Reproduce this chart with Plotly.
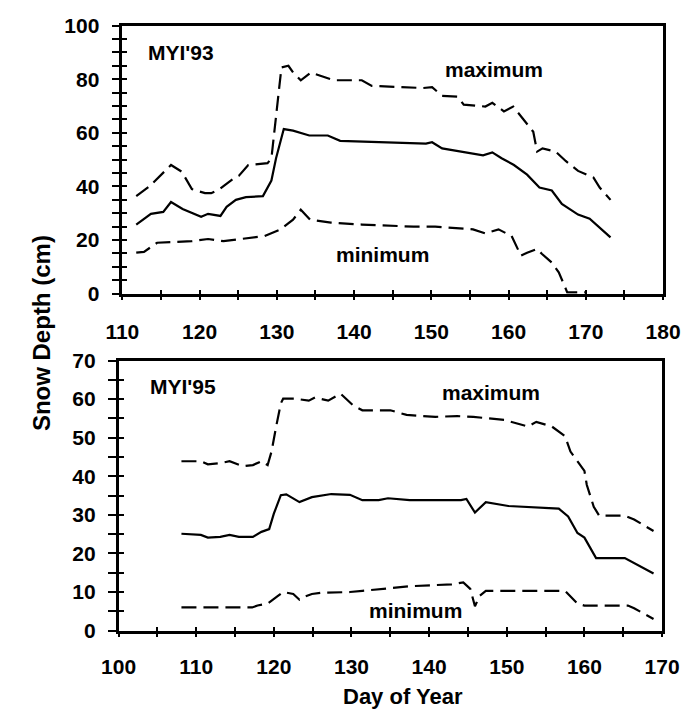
import plotly.graph_objects as go

# ---- MYI'93 snow depth (cm) by day of year ----
day93_max = [111.8, 113.5, 116.3, 117.7, 119.0, 120.7, 121.5, 122.6, 124.4, 125.1, 126.3, 128.8,
             129.3, 130.0, 130.6, 131.5, 132.1, 133.1, 134.4, 137.4, 141.0, 142.3, 147.2, 148.9,
             150.1, 151.4, 153.4, 154.2, 157.0, 157.9, 159.4, 160.6, 162.4, 163.2, 163.7, 164.4,
             166.1, 167.4, 169.0, 171.0, 171.8, 173.2]
depth93_max = [36.4, 40.0, 48.0, 45.5, 39.0, 37.5, 37.5, 39.0, 43.0, 44.0, 48.0, 48.7,
               50.5, 68.7, 84.4, 85.0, 82.5, 79.6, 82.5, 79.6, 79.6, 77.5, 76.7, 76.7,
               77.0, 73.8, 73.5, 70.5, 69.8, 71.2, 68.0, 69.8, 63.3, 60.4, 53.0, 54.2,
               53.0, 49.5, 45.8, 43.3, 39.6, 35.0]

day93_mean = [111.8, 113.7, 115.3, 116.3, 117.8, 120.2, 121.1, 122.7, 123.5, 124.7, 126.0, 128.2,
              129.3, 129.9, 130.9, 132.1, 134.2, 136.6, 138.2, 141.1, 149.3, 150.1, 151.4, 156.7,
              157.9, 159.1, 160.7, 162.4, 164.0, 165.6, 166.9, 169.0, 170.5, 173.2]
depth93_mean = [25.8, 29.8, 30.5, 34.2, 31.6, 28.7, 29.8, 29.0, 32.4, 35.0, 36.0, 36.4,
                42.2, 50.5, 61.4, 60.8, 59.0, 59.0, 57.0, 56.7, 56.0, 56.5, 54.2, 51.6,
                52.7, 50.5, 48.0, 44.4, 39.6, 38.5, 33.5, 29.5, 28.0, 21.0]

day93_min = [111.8, 112.8, 114.5, 119.0, 121.1, 123.1, 128.4, 130.5, 132.1, 133.1, 134.3, 137.0,
             141.0, 147.7, 150.5, 155.4, 157.0, 158.7, 160.4, 161.6, 162.4, 163.7, 164.3, 165.6,
             166.5, 167.4, 167.6, 170.0]
depth93_min = [15.3, 15.6, 19.0, 19.6, 20.4, 19.6, 21.5, 24.0, 27.6, 31.3, 27.6, 26.5,
               25.8, 25.0, 25.0, 24.0, 22.5, 24.0, 21.5, 14.2, 15.3, 16.7, 14.9, 11.6,
               8.0, 2.2, 0.5, 0.5]

# ---- MYI'95 snow depth (cm) by day of year ----
day95_max = [108.1, 110.6, 111.5, 113.1, 114.3, 116.0, 117.3, 118.4, 119.2, 119.7, 120.3, 120.9,
             121.2, 122.8, 124.5, 125.3, 127.0, 128.6, 130.2, 131.4, 135.0, 137.1, 140.8, 143.6,
             145.7, 149.7, 151.8, 152.7, 153.8, 155.8, 157.5, 158.2, 160.0, 160.3, 161.2, 161.9,
             165.2, 166.4, 168.9]
depth95_max = [43.9, 43.9, 43.1, 43.4, 43.9, 42.6, 42.9, 43.9, 42.9, 46.4, 52.9, 58.9,
               60.1, 60.1, 59.6, 60.4, 59.6, 61.4, 58.4, 57.1, 57.1, 55.9, 55.4, 55.6,
               55.4, 54.6, 53.4, 52.9, 54.1, 52.9, 50.4, 46.4, 41.4, 37.8, 32.1, 29.8,
               29.8, 28.8, 25.8]

day95_mean = [108.1, 110.6, 111.5, 113.1, 114.3, 115.5, 117.3, 118.4, 119.4, 120.0, 120.9, 121.6,
              123.3, 124.9, 127.4, 129.8, 131.4, 133.5, 134.7, 137.5, 144.1, 144.8, 145.9, 147.3,
              150.2, 156.7, 157.9, 159.1, 160.0, 161.5, 165.2, 166.4, 168.9]
depth95_mean = [25.1, 24.8, 24.1, 24.3, 24.8, 24.3, 24.3, 25.6, 26.3, 30.3, 35.1, 35.3,
                33.3, 34.6, 35.4, 35.2, 33.8, 33.8, 34.3, 33.8, 33.8, 34.1, 30.6, 33.3,
                32.3, 31.6, 29.6, 25.3, 24.1, 18.8, 18.8, 17.5, 14.8]

day95_min = [108.1, 117.2, 117.9, 119.2, 120.4, 121.2, 122.5, 123.3, 124.0, 124.9, 126.1, 129.8,
             131.4, 137.5, 142.9, 144.4, 145.3, 145.9, 146.5, 147.3, 157.5, 159.1, 160.0, 165.6,
             166.4, 168.9]
depth95_min = [6.0, 6.0, 6.5, 7.0, 8.8, 10.0, 9.5, 8.0, 8.8, 9.5, 9.8, 10.0,
               10.3, 11.5, 12.0, 12.5, 10.8, 6.3, 9.0, 10.3, 10.3, 7.0, 6.5, 6.5,
               5.8, 3.0]

# axis ranges
x93_range, y93_range = [110, 180], [0, 100]
x95_range, y95_range = [100, 170], [0, 70]

FONT = "Liberation Sans, Arial, sans-serif"
INK = "#000000"
DASH = "15px,7px"

fig = go.Figure()


def add_line(x, y, xa, ya, dashed):
    fig.add_trace(go.Scatter(
        x=x, y=y, xaxis=xa, yaxis=ya, mode="lines", showlegend=False, hoverinfo="skip",
        line=dict(color=INK, width=2.2, dash=DASH if dashed else "solid"),
    ))


add_line(day93_max, depth93_max, "x", "y", True)
add_line(day93_mean, depth93_mean, "x", "y", False)
add_line(day93_min, depth93_min, "x", "y", True)
add_line(day95_max, depth95_max, "x2", "y2", True)
add_line(day95_mean, depth95_mean, "x2", "y2", False)
add_line(day95_min, depth95_min, "x2", "y2", True)

# empty traces so the inner-tick overlay axes are drawn
fig.add_trace(go.Scatter(x=[], y=[], xaxis="x3", yaxis="y3", showlegend=False))
fig.add_trace(go.Scatter(x=[], y=[], xaxis="x4", yaxis="y4", showlegend=False))

tickfont = dict(family=FONT, size=21, color=INK, weight="bold")


def main_axis(rng, dtick, minor, domain, anchor, ticklen, standoff):
    return dict(
        range=rng, domain=domain, anchor=anchor, dtick=dtick, tick0=rng[0],
        showgrid=False, zeroline=False, showline=True, linecolor=INK, linewidth=2.5,
        mirror=True, ticks="outside", ticklen=ticklen, tickwidth=2.2, tickcolor=INK,
        minor=dict(dtick=minor, ticks="outside", ticklen=ticklen, tickwidth=2, tickcolor=INK),
        tickfont=tickfont, ticklabelstandoff=standoff, fixedrange=True,
    )


def inner_axis(rng, dtick, minor, overlay, anchor, ticklen):
    return dict(
        range=rng, overlaying=overlay, anchor=anchor, dtick=dtick, tick0=rng[0],
        showgrid=False, zeroline=False, showline=False, showticklabels=False,
        ticks="inside", ticklen=ticklen, tickwidth=2.2, tickcolor=INK,
        minor=dict(dtick=minor, ticks="inside", ticklen=ticklen, tickwidth=2, tickcolor=INK),
        fixedrange=True,
    )


W, H = 700, 721
top_x = [110 / W, 680 / W]
top_y = [1 - 291 / H, 1 - 14 / H]
bot_x = [106 / W, 679 / W]
bot_y = [1 - 639 / H, 1 - 360 / H]

fig.update_layout(
    width=W, height=H, margin=dict(l=0, r=0, t=0, b=0),
    paper_bgcolor="white", plot_bgcolor="white",
    xaxis=main_axis(x93_range, 10, 5, top_x, "y", 4, 13),
    yaxis=main_axis(y93_range, 20, 5, top_y, "x", 8, 8),
    xaxis2=main_axis(x95_range, 10, 5, bot_x, "y2", 4, 11),
    yaxis2=main_axis(y95_range, 10, 5, bot_y, "x2", 8, 8),
    xaxis3=inner_axis(x93_range, 10, 5, "x", "y3", 4),
    yaxis3=inner_axis(y93_range, 20, 5, "y", "x3", 5),
    xaxis4=inner_axis(x95_range, 10, 5, "x2", "y4", 4),
    yaxis4=inner_axis(y95_range, 10, 5, "y2", "x4", 5),
)

lab = dict(family=FONT, size=21, color=INK, weight="bold")
notes = [
    ("MYI'93", "x", "y", 113.1, 90.1, "left"),
    ("maximum", "x", "y", 158.1, 83.7, "center"),
    ("minimum", "x", "y", 143.7, 14.7, "center"),
    ("MYI'95", "x2", "y2", 103.8, 63.3, "left"),
    ("maximum", "x2", "y2", 148.0, 61.7, "center"),
    ("minimum", "x2", "y2", 138.3, 5.3, "center"),
]
for text, xr, yr, x, y, anchor in notes:
    fig.add_annotation(text=text, xref=xr, yref=yr, x=x, y=y, xanchor=anchor,
                       yanchor="middle", showarrow=False, font=lab)

fig.add_annotation(text="Snow Depth (cm)", xref="paper", yref="paper", x=25 / W, y=1 - 332 / H,
                   textangle=-90, showarrow=False, xanchor="center", yanchor="middle",
                   font=dict(family=FONT, size=24, color=INK, weight="bold"))
fig.add_annotation(text="Day of Year", xref="paper", yref="paper", x=406 / W, y=1 - 707 / H,
                   showarrow=False, xanchor="center", yanchor="middle",
                   font=dict(family=FONT, size=22, color=INK, weight="bold"))

fig.write_html("out.html")
